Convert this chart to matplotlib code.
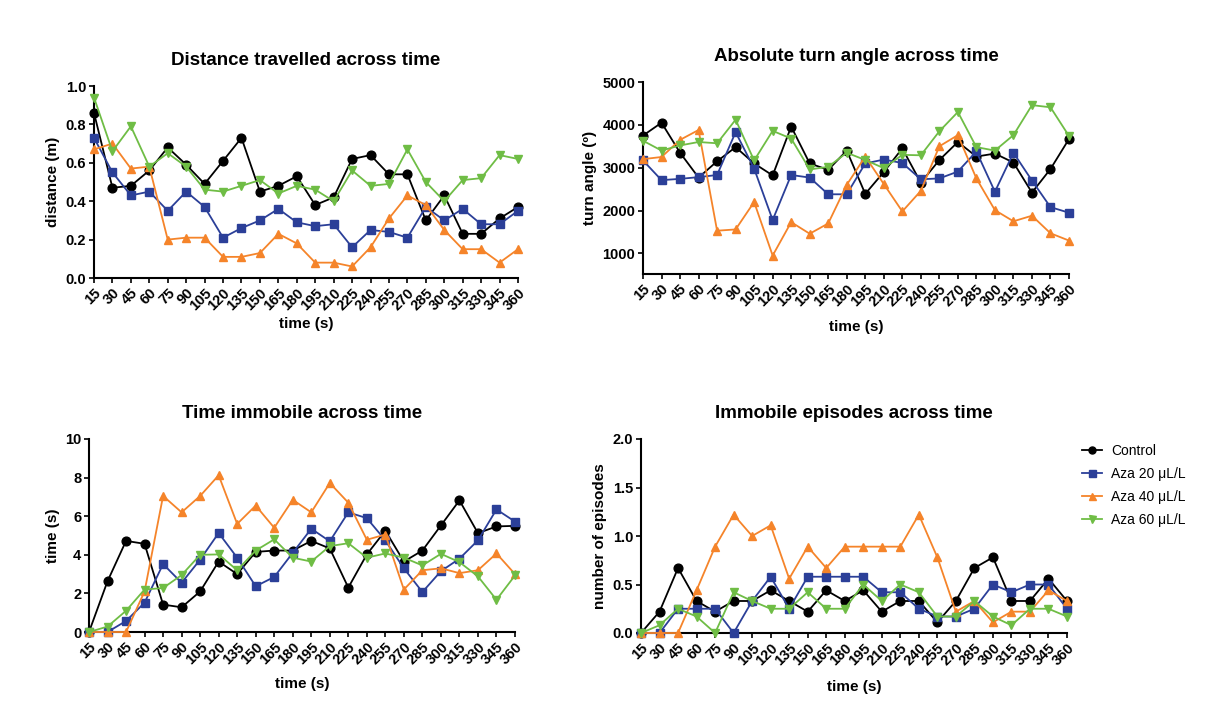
import matplotlib
matplotlib.use("Agg")
import matplotlib.pyplot as plt

plt.rcParams['font.family'] = ['Liberation Sans', 'DejaVu Sans']

# time bins (s)
times = [15, 30, 45, 60, 75, 90, 105, 120, 135, 150, 165, 180,
         195, 210, 225, 240, 255, 270, 285, 300, 315, 330, 345, 360]
groups = ["Control", "Aza 20 \u03bcL/L", "Aza 40 \u03bcL/L", "Aza 60 \u03bcL/L"]

# distance travelled (m)
dist_control = [0.86, 0.47, 0.48, 0.56, 0.68, 0.59, 0.49, 0.61, 0.73, 0.45, 0.48, 0.53,
                0.38, 0.42, 0.62, 0.64, 0.54, 0.54, 0.30, 0.43, 0.23, 0.23, 0.31, 0.37]
dist_aza20 = [0.73, 0.55, 0.43, 0.45, 0.35, 0.45, 0.37, 0.21, 0.26, 0.30, 0.36, 0.29,
              0.27, 0.28, 0.16, 0.25, 0.24, 0.21, 0.37, 0.30, 0.36, 0.28, 0.28, 0.35]
dist_aza40 = [0.67, 0.70, 0.57, 0.58, 0.20, 0.21, 0.21, 0.11, 0.11, 0.13, 0.23, 0.18,
              0.08, 0.08, 0.06, 0.16, 0.31, 0.43, 0.38, 0.25, 0.15, 0.15, 0.08, 0.15]
dist_aza60 = [0.94, 0.66, 0.79, 0.58, 0.65, 0.58, 0.46, 0.45, 0.48, 0.51, 0.44, 0.48,
              0.46, 0.40, 0.56, 0.48, 0.49, 0.67, 0.50, 0.40, 0.51, 0.52, 0.64, 0.62]

# absolute turn angle (deg)
turn_control = [3750, 4050, 3350, 2770, 3150, 3480, 3100, 2820, 3960, 3100, 2950, 3400,
                2390, 2900, 3450, 2650, 3180, 3600, 3260, 3330, 3120, 2420, 2970, 3670]
turn_aza20 = [3170, 2710, 2740, 2780, 2830, 3830, 2980, 1780, 2830, 2770, 2380, 2380,
              3100, 3190, 3110, 2730, 2750, 2910, 3380, 2440, 3350, 2700, 2080, 1950]
turn_aza40 = [3200, 3250, 3650, 3880, 1530, 1560, 2200, 950, 1730, 1460, 1700, 2600,
              3260, 2620, 1980, 2460, 3500, 3760, 2750, 2010, 1750, 1880, 1470, 1300]
turn_aza60 = [3630, 3400, 3520, 3600, 3570, 4120, 3170, 3860, 3680, 2960, 3020, 3350,
              3180, 2990, 3300, 3290, 3850, 4300, 3480, 3400, 3760, 4460, 4410, 3740]

# time immobile (s)
imm_control = [0, 2.63, 4.72, 4.57, 1.42, 1.28, 2.10, 3.65, 3.00, 4.15, 4.22, 4.22,
               4.72, 4.33, 2.30, 4.02, 5.25, 3.65, 4.22, 5.52, 6.82, 5.12, 5.47, 5.50]
imm_aza20 = [0, 0, 0.57, 1.52, 3.52, 2.55, 3.75, 5.13, 3.85, 2.37, 2.85, 4.10,
             5.35, 4.70, 6.20, 5.90, 4.75, 3.30, 2.07, 3.15, 3.80, 4.75, 6.35, 5.72]
imm_aza40 = [0, 0, 0, 2.10, 7.05, 6.20, 7.05, 8.12, 5.60, 6.55, 5.40, 6.85,
             6.20, 7.72, 6.70, 4.78, 5.05, 2.20, 3.20, 3.30, 3.05, 3.20, 4.07, 3.00]
imm_aza60 = [0, 0.28, 1.10, 2.20, 2.28, 2.95, 4.00, 4.02, 3.20, 4.22, 4.80, 3.85,
             3.65, 4.45, 4.60, 3.85, 4.07, 3.85, 3.45, 4.05, 3.62, 2.88, 1.67, 2.93]

# immobile episodes
epi_control = [0, 0.22, 0.67, 0.33, 0.22, 0.33, 0.33, 0.44, 0.33, 0.22, 0.44, 0.33,
               0.44, 0.22, 0.33, 0.33, 0.11, 0.33, 0.67, 0.78, 0.33, 0.33, 0.56, 0.33]
epi_aza20 = [0, 0, 0.25, 0.25, 0.25, 0, 0.33, 0.58, 0.25, 0.58, 0.58, 0.58,
             0.58, 0.42, 0.42, 0.25, 0.17, 0.17, 0.25, 0.50, 0.42, 0.50, 0.50, 0.25]
epi_aza40 = [0, 0, 0, 0.44, 0.89, 1.22, 1.00, 1.11, 0.56, 0.89, 0.67, 0.89,
             0.89, 0.89, 0.89, 1.22, 0.78, 0.22, 0.33, 0.11, 0.22, 0.22, 0.44, 0.33]
epi_aza60 = [0, 0.08, 0.25, 0.17, 0, 0.42, 0.33, 0.25, 0.25, 0.42, 0.25, 0.25,
             0.50, 0.33, 0.50, 0.42, 0.17, 0.17, 0.33, 0.17, 0.08, 0.25, 0.25, 0.17]

colors = ["black", "#2b3f98", "#f5842a", "#6fbd45"]
markers = ["o", "s", "^", "v"]

panels = [
    ("Distance travelled across time", "distance (m)",
     [dist_control, dist_aza20, dist_aza40, dist_aza60], (0, 1.0), [0, 0.2, 0.4, 0.6, 0.8, 1.0], "{:.1f}"),
    ("Absolute turn angle across time", "turn angle (\u00ba)",
     [turn_control, turn_aza20, turn_aza40, turn_aza60], (520, 5000), [1000, 2000, 3000, 4000, 5000], "{:.0f}"),
    ("Time immobile across time", "time (s)",
     [imm_control, imm_aza20, imm_aza40, imm_aza60], (0, 10), [0, 2, 4, 6, 8, 10], "{:.0f}"),
    ("Immobile episodes across time", "number of episodes",
     [epi_control, epi_aza20, epi_aza40, epi_aza60], (0, 2.0), [0, 0.5, 1.0, 1.5, 2.0], "{:.1f}"),
]

W, H = 1219, 702
# axes boxes in pixels: left, top, right, bottom
boxes = [(94, 86, 518, 278), (643, 82, 1069, 274),
         (89, 439, 515, 632), (641, 439, 1067, 633)]
xlabel_pads = [3, 8, 7, 9]

fig = plt.figure(figsize=(W / 100, H / 100), dpi=100)
xpos = list(range(len(times)))

for (title, ylabel, series, ylim, yticks, fmt), (l, t, r, b), lp in zip(panels, boxes, xlabel_pads):
    ax = fig.add_axes([l / W, 1 - b / H, (r - l) / W, (b - t) / H])
    for vals, c, m, g in zip(series, colors, markers, groups):
        ax.plot(xpos, vals, color=c, marker=m, markersize=6.3, linewidth=1.3,
                label=g, clip_on=False, zorder=3)
    ax.set_xlim(0, len(times) - 1)
    ax.set_ylim(*ylim)
    ax.set_yticks(yticks)
    ax.set_yticklabels([fmt.format(v) for v in yticks], fontsize=10.5, fontweight="bold")
    ax.set_xticks(xpos)
    ax.set_xticklabels([str(v) for v in times], rotation=45, ha="right",
                       rotation_mode="anchor", fontsize=10.5, fontweight="bold")
    ax.spines["top"].set_visible(False)
    ax.spines["right"].set_visible(False)
    ax.spines["left"].set_linewidth(1.5)
    ax.spines["bottom"].set_linewidth(1.5)
    ax.tick_params(width=1.2, length=3.5, pad=2)
    ax.set_title(title, fontsize=13.5, fontweight="bold", pad=15)
    ax.set_xlabel("time (s)", fontsize=11, fontweight="bold", labelpad=lp)
    ax.set_ylabel(ylabel, fontsize=11, fontweight="bold")
    last_ax = ax

last_ax.legend(loc="upper left", bbox_to_anchor=(1.005, 1.04), frameon=False,
               fontsize=10, handlelength=1.5, handletextpad=0.6,
               labelspacing=0.65, markerscale=0.8)

fig.savefig("out.png", dpi=100)
